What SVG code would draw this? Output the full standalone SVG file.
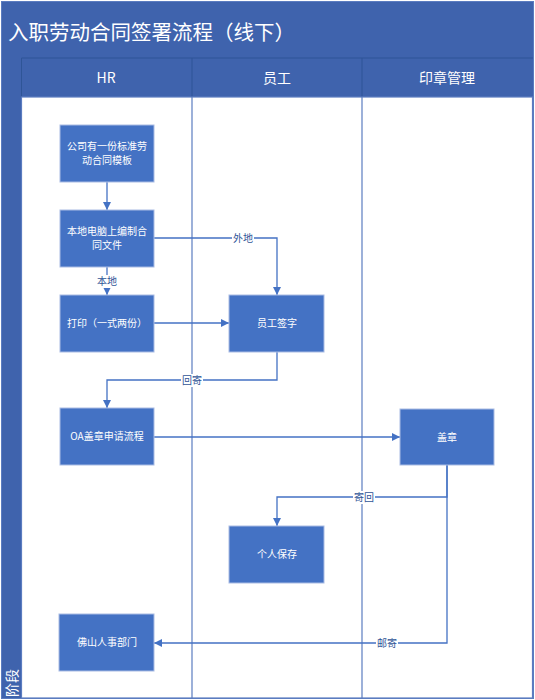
<svg xmlns="http://www.w3.org/2000/svg" width="535" height="700" viewBox="0 0 535 700">
<defs>
<style>
.band{fill:#3F63AD}
.lane{fill:none;stroke:#5B7CC0;stroke-width:1.2}
.node rect{fill:#4472C4;stroke:#A9BCE4;stroke-width:1}
.node text{fill:#fff;font-family:"Noto Sans CJK SC","Liberation Sans",sans-serif;font-size:10px;text-anchor:middle}
.hdr{fill:#fff;font-family:"Noto Sans CJK SC","Liberation Sans",sans-serif;font-size:14px;text-anchor:middle}
.conn path{fill:none;stroke:#4472C4;stroke-width:1.3}
.lbl rect{fill:#fff}
.lbl text{fill:#2F5597;font-family:"Noto Sans CJK SC","Liberation Sans",sans-serif;font-size:10px;text-anchor:middle}
</style>
<marker id="arr" viewBox="0 0 10 10" refX="10" refY="5" markerWidth="8" markerHeight="8" markerUnits="userSpaceOnUse" orient="auto">
<path d="M0,0 L10,5 L0,10 Z" fill="#4472C4"/>
</marker>
</defs>
<rect x="0" y="0" width="535" height="700" fill="#fff"/>
<g id="frame">
<rect class="band" x="2" y="2" width="531" height="56"/>
<text x="8" y="39.5" fill="#fff" font-family="Noto Sans CJK SC, Liberation Sans, sans-serif" font-size="20.5">入职劳动合同签署流程（线下）</text>
<rect class="band" x="2" y="58" width="531" height="39"/>
<rect class="band" x="2" y="58" width="19.5" height="640"/>
<line x1="21.5" y1="58" x2="533" y2="58" stroke="#2F5597" stroke-width="1"/>
<line x1="21.5" y1="58" x2="21.5" y2="97" stroke="#2F5597" stroke-width="1"/>
<line x1="192" y1="58" x2="192" y2="97" stroke="#2F5597" stroke-width="1"/>
<line x1="362" y1="58" x2="362" y2="97" stroke="#2F5597" stroke-width="1"/>
<text class="hdr" x="106" y="83">HR</text>
<text class="hdr" x="277" y="83">员工</text>
<text class="hdr" x="447" y="83">印章管理</text>
<text transform="translate(17,697) rotate(-90)" fill="#fff" font-family="Noto Sans CJK SC, Liberation Sans, sans-serif" font-size="14">阶段</text>
<rect class="lane" x="21.5" y="97" width="511" height="601"/>
<line class="lane" x1="192" y1="97" x2="192" y2="698"/>
<line class="lane" x1="362" y1="97" x2="362" y2="698"/>
<rect x="1.5" y="1.5" width="532" height="697" fill="none" stroke="#5B7CC0" stroke-width="1"/>
</g>
<g id="connectors" class="conn">
<path d="M107,182 V210" marker-end="url(#arr)"/>
<path d="M154,238 H277 V295" marker-end="url(#arr)"/>
<path d="M107,267 V295" marker-end="url(#arr)"/>
<path d="M154,323 H229" marker-end="url(#arr)"/>
<path d="M277,352 V380 H107 V408" marker-end="url(#arr)"/>
<path d="M154,437 H400" marker-end="url(#arr)"/>
<path d="M447,465 V497 H277 V526" marker-end="url(#arr)"/>
<path d="M447,465 V643 H154" marker-end="url(#arr)"/>
<g class="lbl">
<rect x="232" y="231" width="22" height="13"/><text x="243" y="241.5">外地</text>
<rect x="96" y="275" width="22" height="13"/><text x="107" y="285">本地</text>
<rect x="181" y="374" width="22" height="13"/><text x="192" y="384">回寄</text>
<rect x="353" y="491" width="22" height="13"/><text x="364" y="501">寄回</text>
<rect x="376" y="637" width="22" height="13"/><text x="387" y="647">邮寄</text>
</g>
</g>
<g id="n1" class="node"><rect x="60" y="125" width="94" height="57"/><text x="107" y="150">公司有一份标准劳</text><text x="107" y="164">动合同模板</text></g>
<g id="n2" class="node"><rect x="60" y="210" width="94" height="57"/><text x="107" y="235">本地电脑上编制合</text><text x="107" y="249">同文件</text></g>
<g id="n3" class="node"><rect x="60" y="295" width="94" height="57"/><text x="107" y="327">打印（一式两份）</text></g>
<g id="n4" class="node"><rect x="229" y="295" width="95" height="57"/><text x="277" y="327">员工签字</text></g>
<g id="n5" class="node"><rect x="60" y="408" width="94" height="57"/><text x="107" y="440">OA盖章申请流程</text></g>
<g id="n6" class="node"><rect x="400" y="409" width="94" height="56"/><text x="447" y="441">盖章</text></g>
<g id="n7" class="node"><rect x="229" y="526" width="95" height="57"/><text x="277" y="558">个人保存</text></g>
<g id="n8" class="node"><rect x="59" y="614" width="95" height="57"/><text x="107" y="646">佛山人事部门</text></g>
</svg>
